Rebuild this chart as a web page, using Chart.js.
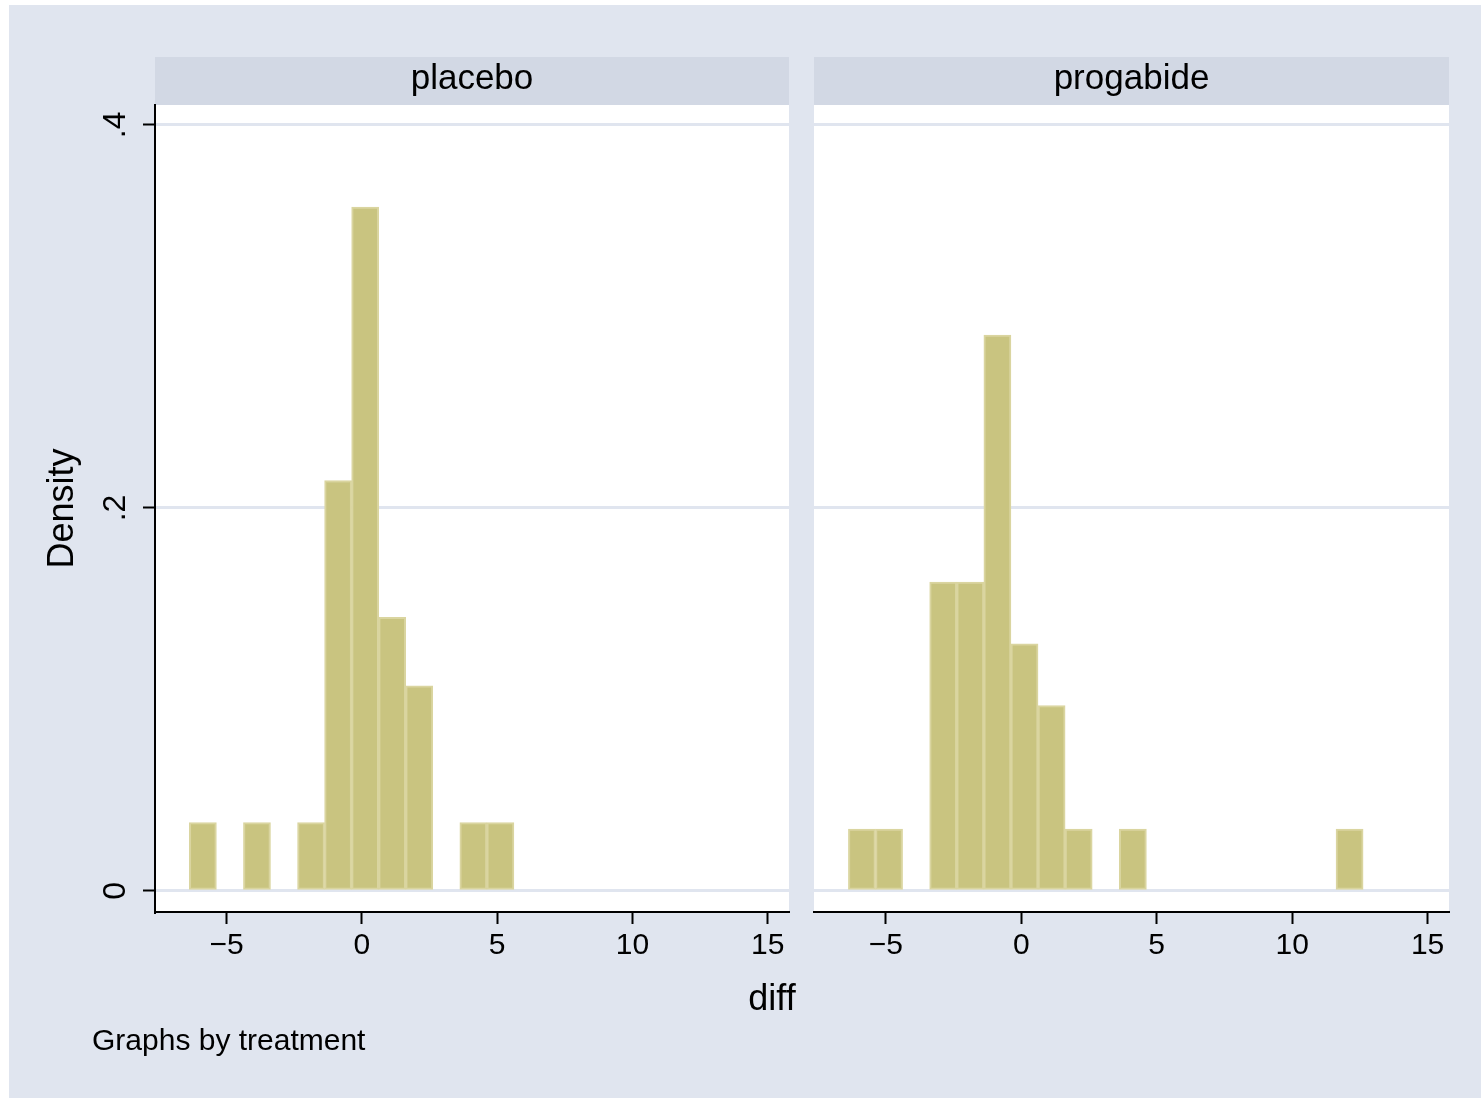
<!DOCTYPE html>
<html><head><meta charset="utf-8">
<script src="https://cdn.jsdelivr.net/npm/chart.js@4"></script>
<style>
html,body{margin:0;padding:0;background:#fff;overflow:hidden;}
#bg{position:absolute;left:9px;top:5px;width:1472px;height:1093px;background:#e0e5ef;}
#c1{position:absolute;left:0;top:0;}
#c2{position:absolute;left:800px;top:0;}
</style></head><body>
<div id="bg"></div>
<canvas id="c1" width="820" height="1098"></canvas>
<canvas id="c2" width="681" height="1098"></canvas>
<script>
// ---- data ----
const panelTitles = ['placebo', 'progabide'];
const placeboBinCenters = [-5.88, -3.88, -1.88, -0.88, 0.12, 1.12, 2.12, 4.12, 5.12];
const placeboDensity    = [0.0357, 0.0357, 0.0357, 0.2143, 0.3571, 0.1429, 0.1071, 0.0357, 0.0357];
const progabideBinCenters = [-5.88, -4.88, -2.88, -1.88, -0.88, 0.12, 1.12, 2.12, 4.12, 12.12];
const progabideDensity    = [0.0323, 0.0323, 0.1613, 0.1613, 0.2903, 0.1290, 0.0968, 0.0323, 0.0323, 0.0323];
const xTicks = [-5, 0, 5, 10, 15];
const yTicks = [0, 0.2, 0.4];
const yTickLabels = ['0', '.2', '.4'];
const xTitle = 'diff';
const yTitle = 'Density';
const noteText = 'Graphs by treatment';

// ---- styling ----
const FONT = '"Liberation Sans", Arial, Helvetica, sans-serif';
const STRIP = '#d2d8e4';
const GRID = '#e0e5ef';
const BAR_FILL = 'rgb(201,196,128)';
const BAR_EDGE = 'rgb(218,213,160)';
const X_MIN = -7.65, X_MAX = 15.79, Y_MIN = -0.011, Y_MAX = 0.4104;
Chart.defaults.font.family = FONT;
Chart.defaults.color = '#000';

const panelDecor = {
  id: 'panelDecor',
  beforeDraw(chart, args, opts) {
    const {ctx, chartArea: a} = chart;
    ctx.save();
    ctx.fillStyle = '#ffffff';
    ctx.fillRect(a.left, a.top, a.right - a.left, a.bottom - a.top);
    ctx.fillStyle = STRIP;
    ctx.fillRect(a.left, a.top - 48, a.right - a.left, 48);
    ctx.fillStyle = '#000';
    ctx.font = '35px ' + FONT;
    ctx.textAlign = 'center';
    ctx.textBaseline = 'alphabetic';
    ctx.fillText(opts.title, (a.left + a.right) / 2, a.top - 16);
    ctx.restore();
  }
};
const notes = {
  id: 'notes',
  afterDraw(chart) {
    const ctx = chart.ctx;
    ctx.save();
    ctx.fillStyle = '#000';
    ctx.textBaseline = 'alphabetic';
    ctx.font = '36px ' + FONT;
    ctx.textAlign = 'center';
    ctx.fillText(xTitle, 772, 1010);
    ctx.font = '30px ' + FONT;
    ctx.textAlign = 'left';
    ctx.fillText(noteText, 92, 1050);
    ctx.restore();
  }
};

function makeChart(id, title, centers, dens, first) {
  const data = centers.map((c, i) => ({x: c, y: dens[i]}));
  return new Chart(document.getElementById(id), {
    type: 'bar',
    data: {datasets: [{
      data,
      backgroundColor: BAR_FILL,
      borderColor: BAR_EDGE,
      borderWidth: 2,
      borderSkipped: false,
      barPercentage: 1,
      categoryPercentage: 1
    }]},
    options: {
      responsive: false,
      animation: false,
      layout: {padding: {top: 105, left: 0, bottom: 0, right: first ? 31 : 32}},
      plugins: {legend: {display: false}, tooltip: {enabled: false}, panelDecor: {title}},
      scales: {
        x: {
          type: 'linear', min: X_MIN, max: X_MAX, offset: false,
          afterBuildTicks: s => { s.ticks = xTicks.map(v => ({value: v})); },
          afterFit: s => { s.height = 186; },
          grid: {offset: false, drawOnChartArea: false, tickLength: 12, tickColor: '#000', tickWidth: 2},
          border: {display: true, color: '#000', width: 2},
          ticks: {font: {size: 30}, color: '#000', padding: 4, maxRotation: 0, autoSkip: false,
                  callback: v => v < 0 ? '\u2212' + Math.abs(v) : String(v)}
        },
        y: {
          type: 'linear', min: Y_MIN, max: Y_MAX,
          afterBuildTicks: s => { s.ticks = yTicks.map(v => ({value: v})); },
          afterFit: s => { s.width = first ? 155 : 14; },
          grid: {color: GRID, lineWidth: 3, drawTicks: first, tickLength: 12, tickColor: '#000', tickWidth: 2},
          border: {display: first, color: '#000', width: 2},
          ticks: {display: first, font: {size: 32}, color: '#000', minRotation: 90, maxRotation: 90,
                  crossAlign: 'center', padding: 13,
                  callback: (v, i) => yTickLabels[i]},
          title: {display: first, text: yTitle, font: {size: 36}, color: '#000', padding: {top: 41, bottom: 0}}
        }
      }
    },
    plugins: first ? [panelDecor, notes] : [panelDecor]
  });
}
makeChart('c1', panelTitles[0], placeboBinCenters, placeboDensity, true);
makeChart('c2', panelTitles[1], progabideBinCenters, progabideDensity, false);
</script>
</body></html>
